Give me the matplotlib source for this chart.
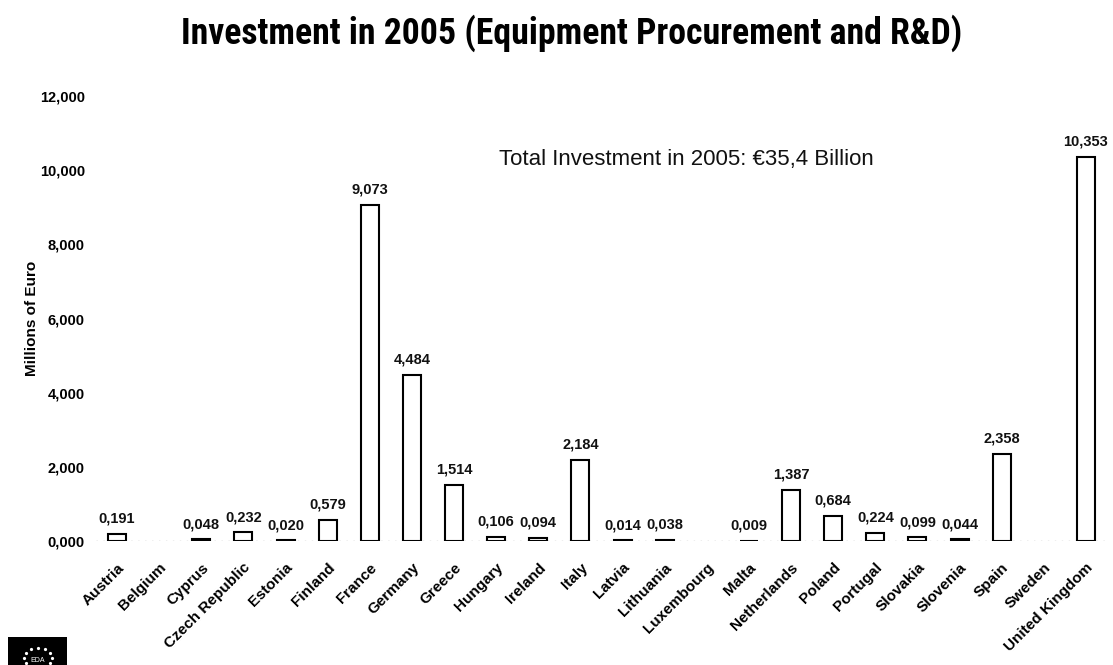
import numpy as np
import matplotlib
matplotlib.use("Agg")
import matplotlib.pyplot as plt
from matplotlib.patches import Rectangle
from matplotlib import font_manager

# Member states and investment (thousand million euro); NaN = no figure reported
countries = ["Austria", "Belgium", "Cyprus", "Czech Republic", "Estonia", "Finland",
             "France", "Germany", "Greece", "Hungary", "Ireland", "Italy", "Latvia",
             "Lithuania", "Luxembourg", "Malta", "Netherlands", "Poland", "Portugal",
             "Slovakia", "Slovenia", "Spain", "Sweden", "United Kingdom"]
investment = [0.191, np.nan, 0.048, 0.232, 0.020, 0.579,
              9.073, 4.484, 1.514, 0.106, 0.094, 2.184, 0.014,
              0.038, np.nan, 0.009, 1.387, 0.684, 0.224,
              0.099, 0.044, 2.358, np.nan, 10.353]
y_ticks = [0, 2, 4, 6, 8, 10, 12]

title = "Investment in 2005 (Equipment Procurement and R&D)"
note = "Total Investment in 2005: \u20ac35,4 Billion"
y_label = "Millions of Euro"


def comma(v):
    return f"{v:.3f}".replace(".", ",")


def _weight(w):
    if isinstance(w, str):
        return font_manager.weight_dict.get(w, 400)
    return w


def condensed_bold():
    """Pick a narrow bold sans face if one is installed."""
    preferred = ["Liberation Sans Narrow", "Arial Narrow", "Roboto Condensed",
                 "Open Sans Condensed", "Noto Sans Condensed", "DejaVu Sans"]
    best = None
    for f in font_manager.fontManager.ttflist:
        if _weight(f.weight) < 600 or "Mono" in f.name or "Serif" in f.name:
            continue
        st = str(f.stretch)
        narrow = ("Narrow" in f.name or "Condensed" in f.name or "condensed" in st
                  or "Condensed" in f.fname or "Narrow" in f.fname)
        if not narrow:
            continue
        rank = preferred.index(f.name) if f.name in preferred else len(preferred)
        if best is None or rank < best[0]:
            best = (rank, f.fname)
    if best:
        return font_manager.FontProperties(fname=best[1])
    return font_manager.FontProperties(family="Liberation Sans", weight="bold")


plt.rcParams["font.family"] = ["Liberation Sans", "DejaVu Sans"]

W, H = 1113, 665
fig = plt.figure(figsize=(W / 100, H / 100), dpi=100)
ax = fig.add_axes([96 / W, 1 - 541 / H, 1011 / W, 445 / H])

x = np.arange(len(countries))
vals = np.array(investment, dtype=float)
has = ~np.isnan(vals)
ax.bar(x[has], vals[has], width=0.43, facecolor="white", edgecolor="black",
       linewidth=1.5, zorder=3)

for xi, v in zip(x[has], vals[has]):
    ax.annotate(comma(v), (xi, v), xytext=(0, 8), textcoords="offset points",
                ha="center", va="baseline", fontsize=10.5, fontweight="bold",
                color="#111111", annotation_clip=False)

# dotted baseline
ax.axhline(0, color="#aaaaaa", linestyle=(0, (1, 4)), linewidth=1, zorder=1)

ax.set_xlim(-0.5, len(countries) - 0.5)
ax.set_ylim(0, 12)
ax.set_yticks(y_ticks)
ax.set_yticklabels([comma(t) for t in y_ticks], fontsize=10.5, fontweight="bold")
ax.tick_params(axis="y", length=0, pad=8)
ax.set_xticks(x)
ax.set_xticklabels(countries, rotation=45, ha="right", rotation_mode="anchor",
                   fontsize=11, fontweight="bold")
ax.tick_params(axis="x", length=0, pad=14)
for s in ax.spines.values():
    s.set_visible(False)

fig.text(32 / W, 1 - 318 / H, y_label, rotation=90, ha="center", va="center",
         fontsize=11, fontweight="bold")

tprop = condensed_bold()
tprop.set_size(24)
ttl = fig.text(572 / W, 1 - 33 / H, title, ha="center", va="center",
               fontproperties=tprop)
renderer = fig.canvas.get_renderer()
tw = ttl.get_window_extent(renderer).width
ttl.set_fontsize(24 * 785 / tw)

fig.text(686 / W, 1 - 160 / H, note, ha="center", va="center",
         fontsize=16, color="#111111")

# EDA emblem
fig.patches.append(Rectangle((8 / W, 0), 59 / W, 28 / H, transform=fig.transFigure,
                             facecolor="black", edgecolor="none"))
ang = np.linspace(0, 2 * np.pi, 12, endpoint=False)
fig.lines.append(plt.Line2D(38 / W + 14 / W * np.cos(ang),
                            7 / H + 10 / H * np.sin(ang),
                            transform=fig.transFigure, linestyle="none",
                            marker="o", markersize=1.3, color="white"))
fig.text(38 / W, 5 / H, "EDA", ha="center", va="center", fontsize=5,
         color="white")

fig.savefig("out.png", dpi=100)
